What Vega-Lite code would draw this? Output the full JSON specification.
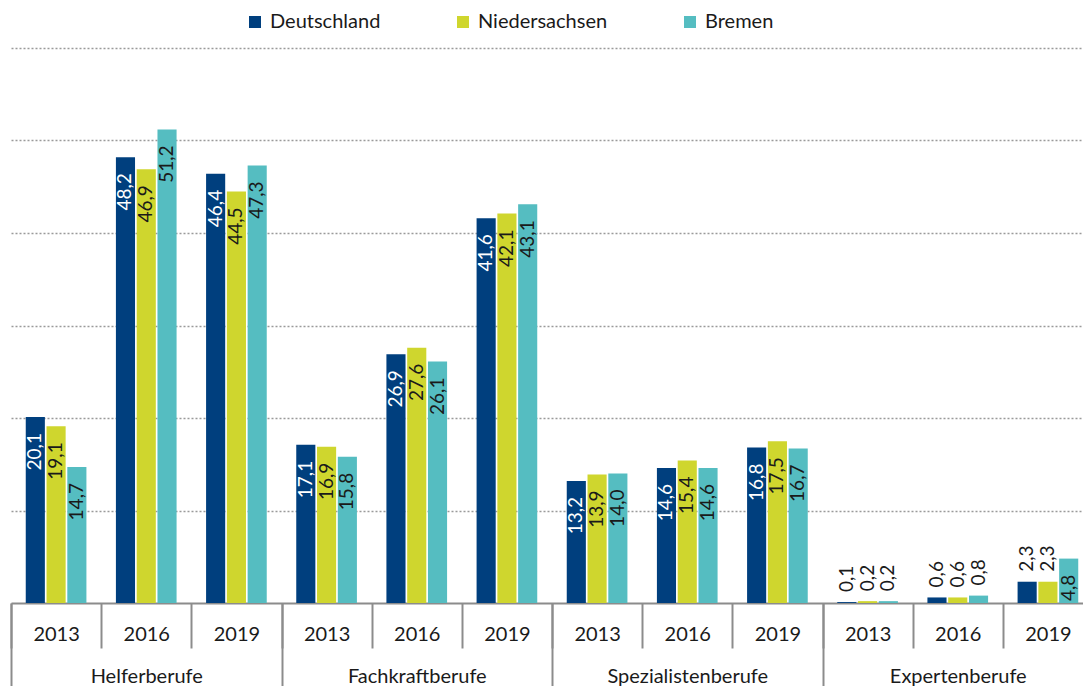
{
  "$schema": "https://vega.github.io/schema/vega-lite/v6.json",
  "autosize": {"type": "none"},
  "width": 1082,
  "height": 555,
  "padding": {"left": 11, "top": 48, "right": -10, "bottom": 83},
  "background": "white",
  "config": {
    "font": "Lato",
    "view": {"stroke": null},
    "locale": {"number": {"decimal": ",", "thousands": ".", "grouping": [3], "currency": ["", " €"]}}
  },
  "data": {
    "values": [
      {"cat": "Helferberufe", "grp": "Helferberufe 2013", "year": "2013", "region": "Deutschland", "value": 20.1},
      {"cat": "Helferberufe", "grp": "Helferberufe 2013", "year": "2013", "region": "Niedersachsen", "value": 19.1},
      {"cat": "Helferberufe", "grp": "Helferberufe 2013", "year": "2013", "region": "Bremen", "value": 14.7},
      {"cat": "Helferberufe", "grp": "Helferberufe 2016", "year": "2016", "region": "Deutschland", "value": 48.2},
      {"cat": "Helferberufe", "grp": "Helferberufe 2016", "year": "2016", "region": "Niedersachsen", "value": 46.9},
      {"cat": "Helferberufe", "grp": "Helferberufe 2016", "year": "2016", "region": "Bremen", "value": 51.2},
      {"cat": "Helferberufe", "grp": "Helferberufe 2019", "year": "2019", "region": "Deutschland", "value": 46.4},
      {"cat": "Helferberufe", "grp": "Helferberufe 2019", "year": "2019", "region": "Niedersachsen", "value": 44.5},
      {"cat": "Helferberufe", "grp": "Helferberufe 2019", "year": "2019", "region": "Bremen", "value": 47.3},
      {"cat": "Fachkraftberufe", "grp": "Fachkraftberufe 2013", "year": "2013", "region": "Deutschland", "value": 17.1},
      {"cat": "Fachkraftberufe", "grp": "Fachkraftberufe 2013", "year": "2013", "region": "Niedersachsen", "value": 16.9},
      {"cat": "Fachkraftberufe", "grp": "Fachkraftberufe 2013", "year": "2013", "region": "Bremen", "value": 15.8},
      {"cat": "Fachkraftberufe", "grp": "Fachkraftberufe 2016", "year": "2016", "region": "Deutschland", "value": 26.9},
      {"cat": "Fachkraftberufe", "grp": "Fachkraftberufe 2016", "year": "2016", "region": "Niedersachsen", "value": 27.6},
      {"cat": "Fachkraftberufe", "grp": "Fachkraftberufe 2016", "year": "2016", "region": "Bremen", "value": 26.1},
      {"cat": "Fachkraftberufe", "grp": "Fachkraftberufe 2019", "year": "2019", "region": "Deutschland", "value": 41.6},
      {"cat": "Fachkraftberufe", "grp": "Fachkraftberufe 2019", "year": "2019", "region": "Niedersachsen", "value": 42.1},
      {"cat": "Fachkraftberufe", "grp": "Fachkraftberufe 2019", "year": "2019", "region": "Bremen", "value": 43.1},
      {"cat": "Spezialistenberufe", "grp": "Spezialistenberufe 2013", "year": "2013", "region": "Deutschland", "value": 13.2},
      {"cat": "Spezialistenberufe", "grp": "Spezialistenberufe 2013", "year": "2013", "region": "Niedersachsen", "value": 13.9},
      {"cat": "Spezialistenberufe", "grp": "Spezialistenberufe 2013", "year": "2013", "region": "Bremen", "value": 14.0},
      {"cat": "Spezialistenberufe", "grp": "Spezialistenberufe 2016", "year": "2016", "region": "Deutschland", "value": 14.6},
      {"cat": "Spezialistenberufe", "grp": "Spezialistenberufe 2016", "year": "2016", "region": "Niedersachsen", "value": 15.4},
      {"cat": "Spezialistenberufe", "grp": "Spezialistenberufe 2016", "year": "2016", "region": "Bremen", "value": 14.6},
      {"cat": "Spezialistenberufe", "grp": "Spezialistenberufe 2019", "year": "2019", "region": "Deutschland", "value": 16.8},
      {"cat": "Spezialistenberufe", "grp": "Spezialistenberufe 2019", "year": "2019", "region": "Niedersachsen", "value": 17.5},
      {"cat": "Spezialistenberufe", "grp": "Spezialistenberufe 2019", "year": "2019", "region": "Bremen", "value": 16.7},
      {"cat": "Expertenberufe", "grp": "Expertenberufe 2013", "year": "2013", "region": "Deutschland", "value": 0.1},
      {"cat": "Expertenberufe", "grp": "Expertenberufe 2013", "year": "2013", "region": "Niedersachsen", "value": 0.2},
      {"cat": "Expertenberufe", "grp": "Expertenberufe 2013", "year": "2013", "region": "Bremen", "value": 0.2},
      {"cat": "Expertenberufe", "grp": "Expertenberufe 2016", "year": "2016", "region": "Deutschland", "value": 0.6},
      {"cat": "Expertenberufe", "grp": "Expertenberufe 2016", "year": "2016", "region": "Niedersachsen", "value": 0.6},
      {"cat": "Expertenberufe", "grp": "Expertenberufe 2016", "year": "2016", "region": "Bremen", "value": 0.8},
      {"cat": "Expertenberufe", "grp": "Expertenberufe 2019", "year": "2019", "region": "Deutschland", "value": 2.3},
      {"cat": "Expertenberufe", "grp": "Expertenberufe 2019", "year": "2019", "region": "Niedersachsen", "value": 2.3},
      {"cat": "Expertenberufe", "grp": "Expertenberufe 2019", "year": "2019", "region": "Bremen", "value": 4.8}
    ]
  },
  "layer": [
    {
      "encoding": {
        "x": {
          "field": "grp", "type": "nominal", "sort": null,
          "scale": {"paddingInner": 0, "paddingOuter": 0},
          "axis": {
            "orient": "bottom", "title": null,
            "labelExpr": "slice(datum.label, -4)",
            "labelAngle": 0, "labelFontSize": 20, "labelColor": "#1a1a1a",
            "labelBaseline": "alphabetic", "labelPadding": -8,
            "tickBand": "extent", "tickSize": 45, "tickColor": "#8c8c8c", "tickWidth": 2,
            "domain": true, "domainColor": "#8c8c8c", "domainWidth": 2,
            "labelOverlap": false, "labelBound": false
          }
        },
        "xOffset": {
          "field": "region", "type": "nominal",
          "sort": ["Deutschland", "Niedersachsen", "Bremen"],
          "scale": {"paddingInner": 0.08, "paddingOuter": 0.71}
        },
        "y": {
          "field": "value", "type": "quantitative",
          "scale": {"domain": [0, 60], "nice": false, "zero": true},
          "axis": {
            "title": null, "labels": false, "ticks": false, "domain": false,
            "grid": true, "values": [10, 20, 30, 40, 50, 60],
            "gridColor": "#9a9a9a", "gridDash": [2, 2], "gridWidth": 1.5
          }
        }
      },
      "layer": [
        {
          "mark": {"type": "bar"},
          "encoding": {
            "color": {
              "field": "region", "type": "nominal",
              "scale": {"domain": ["Deutschland", "Niedersachsen", "Bremen"], "range": ["#003f7e", "#cfd62e", "#55bdc1"]},
              "legend": {
                "title": null, "orient": "none", "direction": "horizontal",
                "legendX": 234, "legendY": -36,
                "symbolType": "square", "symbolSize": 144, "symbolStrokeWidth": 0,
                "labelFontSize": 20, "labelColor": "#1a1a1a", "labelOffset": 5,
                "columnPadding": 72, "padding": 0
              }
            }
          }
        },
        {
          "transform": [{"filter": "datum.value > 4"}],
          "mark": {"type": "text", "angle": -90, "align": "right", "baseline": "middle", "dx": -16, "fontSize": 19},
          "encoding": {
            "text": {"field": "value", "type": "quantitative", "format": ".1f"},
            "color": {"condition": {"test": "datum.region === 'Deutschland'", "value": "#ffffff"}, "value": "#1a1a1a"}
          }
        },
        {
          "transform": [{"filter": "datum.value <= 4"}],
          "mark": {"type": "text", "angle": -90, "align": "left", "baseline": "middle", "dx": 10, "fontSize": 19, "color": "#1a1a1a"},
          "encoding": {
            "text": {"field": "value", "type": "quantitative", "format": ".1f"}
          }
        }
      ]
    },
    {
      "mark": {"type": "text", "opacity": 0},
      "encoding": {
        "x": {
          "field": "cat", "type": "nominal", "sort": null,
          "scale": {"paddingInner": 0, "paddingOuter": 0},
          "axis": {
            "orient": "bottom", "title": null,
            "labelAngle": 0, "labelFontSize": 20, "labelColor": "#1a1a1a",
            "labelBaseline": "alphabetic", "labelPadding": -4,
            "tickBand": "extent", "tickSize": 83, "tickColor": "#8c8c8c", "tickWidth": 2,
            "domain": false, "labelOverlap": false, "labelBound": false
          }
        },
        "text": {"field": "cat"}
      }
    }
  ],
  "resolve": {"scale": {"x": "independent"}, "axis": {"x": "independent"}}
}
